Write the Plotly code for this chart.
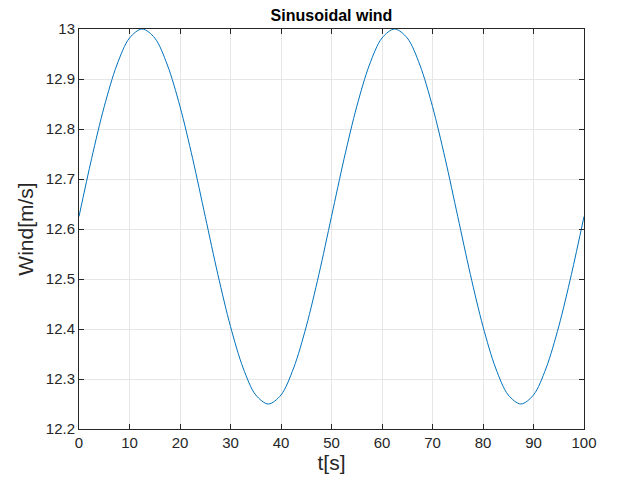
import plotly.graph_objects as go

t = [0, 2.5, 5, 7.5, 10, 12.5, 15, 17.5, 20, 22.5, 25, 27.5, 30, 32.5, 35, 37.5,
     40, 42.5, 45, 47.5, 50, 52.5, 55, 57.5, 60, 62.5, 65, 67.5, 70, 72.5, 75,
     77.5, 80, 82.5, 85, 87.5, 90, 92.5, 95, 97.5, 100]
wind = [12.625, 12.741, 12.845, 12.928, 12.982, 13.000, 12.982, 12.928, 12.845,
        12.741, 12.625, 12.509, 12.405, 12.322, 12.268, 12.250, 12.268, 12.322,
        12.405, 12.509, 12.625, 12.741, 12.845, 12.928, 12.982, 13.000, 12.982,
        12.928, 12.845, 12.741, 12.625, 12.509, 12.405, 12.322, 12.268, 12.250,
        12.268, 12.322, 12.405, 12.509, 12.625]
xticks = [0, 10, 20, 30, 40, 50, 60, 70, 80, 90, 100]
yticks = [12.2, 12.3, 12.4, 12.5, 12.6, 12.7, 12.8, 12.9, 13]

FONT = "Liberation Sans, Arial"

fig = go.Figure(go.Scatter(x=t, y=wind, mode="lines",
                           line=dict(color="#0072BD", width=1, shape="spline", smoothing=0.9),
                           hoverinfo="skip"))

axcommon = dict(showline=True, linecolor="#262626", linewidth=1, mirror="ticks",
                ticks="inside", ticklen=5, tickcolor="#262626",
                showgrid=True, gridcolor="#E6E6E6", gridwidth=1, zeroline=False,
                tickfont=dict(family=FONT, size=15, color="#262626"))

fig.update_layout(
    width=619, height=483,
    margin=dict(l=79, r=35, t=29, b=54),
    paper_bgcolor="white", plot_bgcolor="white",
    showlegend=False,
    title=dict(text="<b>Sinusoidal wind</b>", x=0.5, xref="paper", xanchor="center",
               y=1 - 15 / 483, yref="container", yanchor="middle",
               font=dict(family=FONT, size=16, color="black")),
    xaxis=dict(range=[0, 100], tickvals=xticks, ticktext=[str(v) for v in xticks],
               title=dict(text="t[s]", standoff=4,
                          font=dict(family=FONT, size=21, color="#262626")),
               **axcommon),
    yaxis=dict(range=[12.2, 13], tickvals=yticks, ticktext=[f"{v:g}" for v in yticks],
               title=dict(text="Wind[m/s]", standoff=6,
                          font=dict(family=FONT, size=21, color="#262626")),
               **axcommon),
)
fig.write_html("out.html")
